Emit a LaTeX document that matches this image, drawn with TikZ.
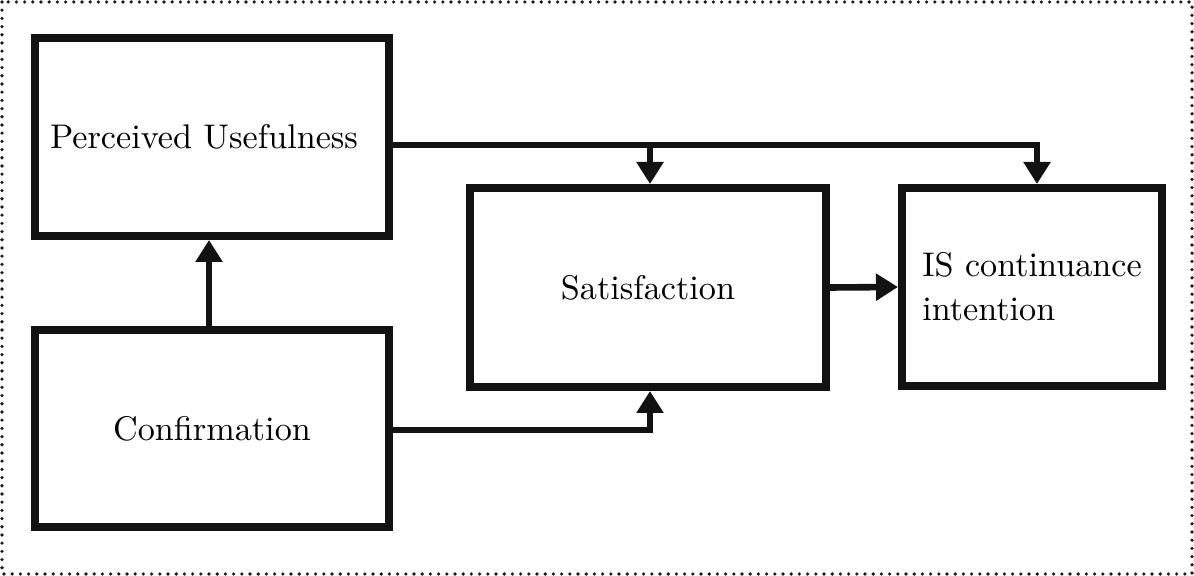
\documentclass[tikz,border=0pt]{standalone}
\usepackage{fontspec}
\setmainfont{lmroman10-regular}[Extension=.otf]
\usetikzlibrary{arrows.meta}
\begin{document}
\begin{tikzpicture}[x=0.5pt,y=-0.5pt,
  box/.style={draw=black!93,line width=4pt,rectangle,inner sep=0pt,font=\fontsize{17.1}{22}\selectfont,align=left},
  conn/.style={draw=black!93,line width=3.3pt,-{Triangle[width=13pt,length=11pt]}}]
\useasboundingbox (0,0) rectangle (1194,576);
\draw[line width=1.8pt,line cap=round,dash pattern=on 0pt off 4.1pt,black!90] (2,2) rectangle (1192,574);
\node[box,minimum width=177pt,minimum height=99pt] (pu) at (212,137) {\hspace*{-8pt}Perceived Usefulness};
\node[box,minimum width=177pt,minimum height=98.5pt] (conf) at (212,428.5) {Confirmation};
\node[box,minimum width=178pt,minimum height=99.5pt] (sat) at (648,287.5) {Satisfaction};
\node[box,minimum width=130pt,minimum height=99pt] (is) at (1032,287) {IS continuance\\intention};
\coordinate (j1) at (650,145);
\coordinate (j2) at (1037,145);
\coordinate (j3) at (650,430);
\coordinate (j1top) at (650,142);
\draw[conn] (pu.east |- j1) -- (j2) -- (j2 |- is.north);
\draw[conn] (j1top) -- (j1 |- sat.north);
\draw[conn] (conf.north -| 209,0) -- (pu.south -| 209,0);
\draw[conn] (conf.east |- j3) -- (j3) -- (j3 |- sat.south);
\draw[conn] (sat.east) -- (is.west);
\end{tikzpicture}
\end{document}
